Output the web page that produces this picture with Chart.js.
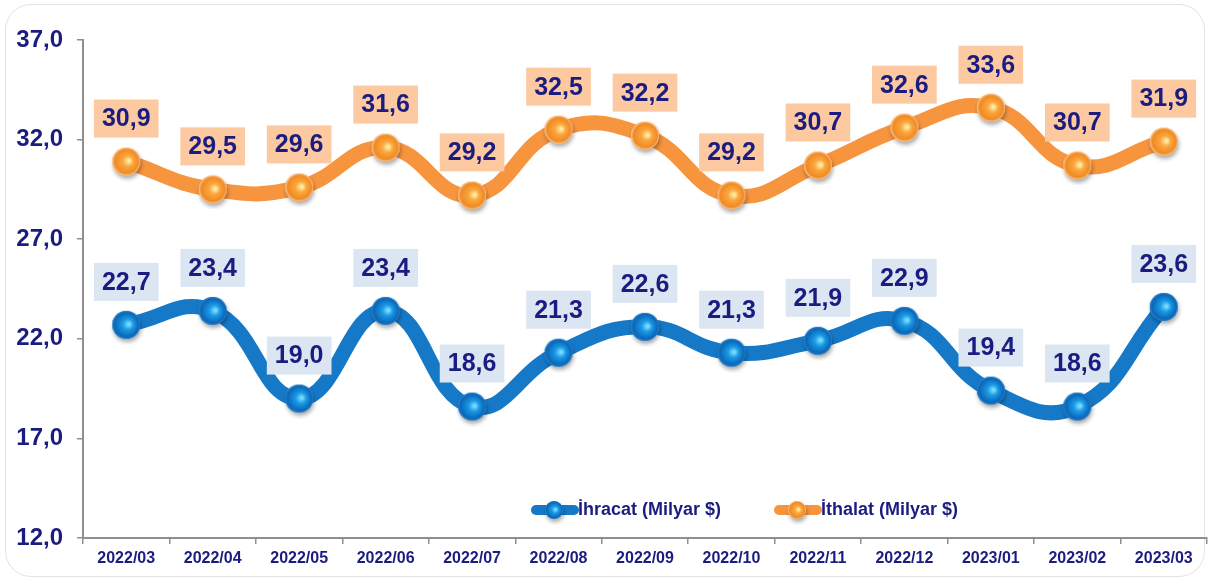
<!DOCTYPE html>
<html>
<head>
<meta charset="utf-8">
<script src="https://cdn.jsdelivr.net/npm/chart.js@4.4.0/dist/chart.umd.min.js"></script>
<style>
  html, body { margin: 0; padding: 0; background: #ffffff; }
  #wrap { position: relative; width: 1210px; height: 582px; overflow: hidden; }
  #card { position: absolute; left: 5px; top: 4px; width: 1200px; height: 573px; border: 1px solid #e2e2e2; border-radius: 26px; box-sizing: border-box; background: #fff; }
  #c { position: absolute; left: 0; top: 0; }
</style>
</head>
<body>
<div id="wrap">
  <div id="card"></div>
  <canvas id="c" width="1210" height="582"></canvas>
</div>
<script>
const labels = ['2022/03','2022/04','2022/05','2022/06','2022/07','2022/08','2022/09','2022/10','2022/11','2022/12','2023/01','2023/02','2023/03'];
const ihracat = [22.7, 23.4, 19.0, 23.4, 18.6, 21.3, 22.6, 21.3, 21.9, 22.9, 19.4, 18.6, 23.6];
const ithalat = [30.9, 29.5, 29.6, 31.6, 29.2, 32.5, 32.2, 29.2, 30.7, 32.6, 33.6, 30.7, 31.9];
const seriesNames = ['İhracat (Milyar $)', 'İthalat (Milyar $)'];
const yMin = 12, yMax = 37, yStep = 5;

const FONT = '"Liberation Sans", Arial, sans-serif';
const NAVY = '#1b1c80';

function makeSphere(r, light, mid, dark, edge) {
  const pad = 6;
  const size = (r + pad) * 2;
  const cv = document.createElement('canvas');
  cv.width = size; cv.height = size;
  const g = cv.getContext('2d');
  const c = size / 2;
  g.save();
  g.shadowColor = 'rgba(0,0,0,0.35)';
  g.shadowBlur = 4;
  g.shadowOffsetX = 1;
  g.shadowOffsetY = 3;
  g.beginPath(); g.arc(c, c, r, 0, Math.PI * 2);
  g.fillStyle = mid; g.fill();
  g.restore();
  const grad = g.createRadialGradient(c + r * 0.2, c - r * 0.05, r * 0.05, c, c, r);
  grad.addColorStop(0, light);
  grad.addColorStop(0.35, mid);
  grad.addColorStop(0.85, dark);
  grad.addColorStop(1, edge);
  g.beginPath(); g.arc(c, c, r, 0, Math.PI * 2);
  g.fillStyle = grad; g.fill();
  return cv;
}

const blueSphere = makeSphere(14, '#7fe0ff', '#1a9ae6', '#0b67b8', '#2a7cc4');
const orangeSphere = makeSphere(14, '#fff3a8', '#fba640', '#f08a22', '#fcc89c');
const blueSphereSmall = makeSphere(9, '#7fe0ff', '#1a9ae6', '#0b67b8', '#2a7cc4');
const orangeSphereSmall = makeSphere(9, '#fff3a8', '#fba640', '#f08a22', '#fcc89c');

const labelBoxes = [
  { bg: '#dbe6f2' },
  { bg: '#fcc9a0' }
];

const dataLabelPlugin = {
  id: 'dataLabels',
  afterDatasetsDraw(chart) {
    const ctx = chart.ctx;
    ctx.save();
    ctx.font = 'bold 25px ' + FONT;
    ctx.textAlign = 'center';
    ctx.textBaseline = 'middle';
    chart.data.datasets.forEach((ds, di) => {
      const meta = chart.getDatasetMeta(di);
      meta.data.forEach((pt, i) => {
        const txt = ds.data[i].toFixed(1).replace('.', ',');
        const w = ctx.measureText(txt).width + 16;
        const h = 38;
        const cx = pt.x, cy = pt.y - 43;
        ctx.fillStyle = labelBoxes[di].bg;
        ctx.fillRect(cx - w / 2, cy - h / 2, w, h);
        ctx.fillStyle = NAVY;
        ctx.fillText(txt, cx, cy + 1);
      });
    });
    ctx.restore();
  }
};

const legendPlugin = {
  id: 'customLegend',
  afterDraw(chart) {
    const ctx = chart.ctx;
    const items = [
      { x: 532, color: '#1679c8', img: blueSphereSmall, text: seriesNames[0] },
      { x: 775, color: '#f7943e', img: orangeSphereSmall, text: seriesNames[1] }
    ];
    const y = 510;
    ctx.save();
    items.forEach(it => {
      ctx.strokeStyle = it.color;
      ctx.lineWidth = 10;
      ctx.lineCap = 'round';
      ctx.beginPath(); ctx.moveTo(it.x + 4, y); ctx.lineTo(it.x + 42, y); ctx.stroke();
      ctx.drawImage(it.img, it.x + 22 - it.img.width / 2, y - it.img.height / 2);
      ctx.fillStyle = NAVY;
      ctx.font = 'bold 18px ' + FONT;
      ctx.textAlign = 'left';
      ctx.textBaseline = 'middle';
      ctx.fillText(it.text, it.x + 46, y);
    });
    ctx.restore();
  }
};

new Chart(document.getElementById('c'), {
  type: 'line',
  data: {
    labels: labels,
    datasets: [
      {
        label: seriesNames[0],
        data: ihracat,
        borderColor: '#1679c8',
        borderWidth: 15,
        tension: 0.45,
        pointStyle: blueSphere,
        pointRadius: 14,
        pointHoverRadius: 14,
        clip: false,
        borderCapStyle: 'round'
      },
      {
        label: seriesNames[1],
        data: ithalat,
        borderColor: '#f7943e',
        borderWidth: 15,
        tension: 0.45,
        pointStyle: orangeSphere,
        pointRadius: 14,
        pointHoverRadius: 14,
        clip: false,
        borderCapStyle: 'round'
      }
    ]
  },
  options: {
    responsive: false,
    animation: false,
    events: [],
    layout: { autoPadding: false, padding: { top: 40, right: 3, bottom: 0, left: 0 } },
    plugins: {
      legend: { display: false },
      tooltip: { enabled: false }
    },
    scales: {
      x: {
        type: 'category',
        offset: true,
        grid: { drawOnChartArea: false, drawTicks: true, tickLength: 6, color: '#8f8f8f', lineWidth: 1.5, offset: true },
        border: { display: true, color: '#8f8f8f', width: 2 },
        ticks: { color: NAVY, font: { family: FONT, size: 16, weight: 'bold' }, padding: 5, maxRotation: 0, autoSkip: false },
        afterFit(s) { s.height = 44; }
      },
      y: {
        min: yMin,
        max: yMax,
        grid: { drawOnChartArea: false, drawTicks: true, tickLength: 6, color: '#8f8f8f', lineWidth: 1.5 },
        border: { display: true, color: '#8f8f8f', width: 2 },
        ticks: {
          stepSize: yStep,
          color: NAVY,
          font: { family: FONT, size: 24, weight: 'bold' },
          padding: 14,
          callback: v => Number(v).toFixed(1).replace('.', ',')
        },
        afterFit(s) { s.width = 83; }
      }
    }
  },
  plugins: [dataLabelPlugin, legendPlugin]
});
</script>
</body>
</html>
